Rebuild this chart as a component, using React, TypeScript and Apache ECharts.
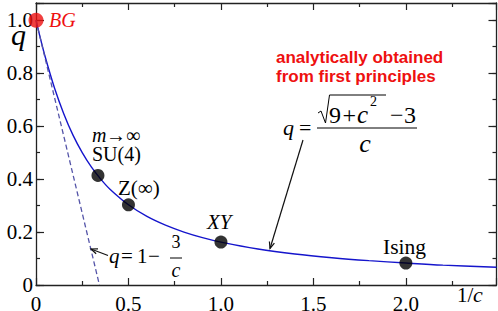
import React, { useEffect, useRef } from 'react';
import * as echarts from 'echarts';

// ---- data ----
const curveX = [0, 0.02, 0.05, 0.1, 0.15, 0.2, 0.25, 0.3, 0.35, 0.4, 0.5, 0.6, 0.7, 0.8, 0.9, 1.0, 1.2, 1.4, 1.6, 1.8, 2.0, 2.2, 2.49];
const curveQ = [1.0, 0.942, 0.861, 0.744, 0.647, 0.566, 0.5, 0.445, 0.4, 0.362, 0.303, 0.259, 0.226, 0.2, 0.179, 0.162, 0.136, 0.117, 0.103, 0.092, 0.083, 0.075, 0.067];
const tangentX = [0, 0.343];
const tangentQ = [1, 0];
const modelNames = ['SU(4)', 'Z(∞)', 'XY', 'Ising'];
const modelX = [0.335, 0.5, 1.0, 2.0];
const modelQ = [0.414, 0.303, 0.162, 0.083];
const bgX = [0];
const bgQ = [1];
const xTickLabels = ['0', '0.5', '1.0', '1.5', '2.0'];
const yTickLabels = ['0', '0.2', '0.4', '0.6', '0.8', '1.0'];

const SERIF = 'Liberation Serif, Times New Roman, serif';
const SANS = 'Liberation Sans, Arial, sans-serif';
const AXIS = '#222';
const RED = '#ee1010';

function txt(text: string, x: number, baseline: number, size: number, o: any = {}) {
  const family = o.sans ? SANS : SERIF;
  const align = o.align || 'left';
  return {
    type: 'text',
    x,
    y: baseline - (o.sans ? 0.346 : 0.3375) * size,
    z: 100,
    silent: true,
    style: {
      text,
      fontFamily: family,
      fontSize: size,
      fontStyle: o.italic ? 'italic' : 'normal',
      fontWeight: o.bold ? 'bold' : 'normal',
      fill: o.fill || '#000',
      align,
      verticalAlign: 'middle',
      textAlign: align,
      textVerticalAlign: 'middle',
    },
  };
}

function arrow(x1: number, y1: number, x2: number, y2: number) {
  const ang = Math.atan2(y2 - y1, x2 - x1);
  const L = 7;
  const a = 0.38;
  const p1 = [x2 - L * Math.cos(ang - a), y2 - L * Math.sin(ang - a)];
  const p2 = [x2 - L * Math.cos(ang + a), y2 - L * Math.sin(ang + a)];
  return [
    { type: 'line', z: 100, silent: true, shape: { x1, y1, x2, y2 }, style: { stroke: '#111', lineWidth: 1.2 } },
    { type: 'polyline', z: 100, silent: true, shape: { points: [p1, [x2, y2], p2] }, style: { stroke: '#111', fill: null, lineWidth: 1.2 } },
  ];
}

function line(x1: number, y1: number, x2: number, y2: number, w = 1) {
  return { type: 'line', z: 100, silent: true, shape: { x1, y1, x2, y2 }, style: { stroke: '#000', lineWidth: w } };
}

function labelFor(list: string[], step: number) {
  return (v: number) => {
    const i = Math.round(v / step);
    if (Math.abs(v - i * step) > 1e-6 || i < 0 || i >= list.length) return '';
    return list[i];
  };
}

export default function App() {
  const ref = useRef<HTMLDivElement>(null);
  useEffect(() => {
    if (!ref.current) return;
    const chart = echarts.init(ref.current, null, { renderer: 'svg' });
    const tickStyle = { color: AXIS, width: 1.2 };
    const axisLine = { show: true, onZero: false, lineStyle: { color: AXIS, width: 1.3 } };
    const xBase = {
      type: 'value', min: 0, max: 2.49, interval: 0.5,
      splitLine: { show: false },
      axisLine,
      axisTick: { show: true, inside: true, length: 7, lineStyle: tickStyle },
      minorTick: { show: true, splitNumber: 2, length: 4, lineStyle: tickStyle },
    };
    const yBase = {
      type: 'value', min: 0, max: 1.065,
      splitLine: { show: false },
      axisLine,
    };
    const names = modelNames;
    const option: any = {
      animation: false,
      grid: { left: 36, right: 1.5, top: 3, bottom: 26, containLabel: false, outerBoundsMode: 'none' },
      xAxis: [
        {
          ...xBase, position: 'bottom',
          axisLabel: {
            show: true, margin: 8, color: '#000', fontFamily: SERIF, fontSize: 21,
            formatter: labelFor(xTickLabels, 0.5), showMinLabel: true, showMaxLabel: true,
          },
        },
        { ...xBase, position: 'top', axisLabel: { show: false } },
      ],
      yAxis: [
        {
          ...yBase, position: 'left', interval: 0.2,
          axisTick: { show: true, inside: true, length: 8, lineStyle: tickStyle },
          axisLabel: {
            show: true, margin: 3, color: '#000', fontFamily: SERIF, fontSize: 21,
            formatter: labelFor(yTickLabels, 0.2), showMinLabel: true, showMaxLabel: true,
          },
        },
        {
          ...yBase, position: 'left', interval: 0.1, axisLine: { show: false, onZero: false },
          axisTick: { show: true, inside: true, length: 4, lineStyle: tickStyle },
          axisLabel: { show: false },
        },
        {
          ...yBase, position: 'right', interval: 0.2,
          axisTick: { show: true, inside: true, length: 8, lineStyle: tickStyle },
          axisLabel: { show: false },
        },
        {
          ...yBase, position: 'right', interval: 0.1, axisLine: { show: false, onZero: false },
          axisTick: { show: true, inside: true, length: 4, lineStyle: tickStyle },
          axisLabel: { show: false },
        },
      ],
      series: [
        {
          type: 'line', name: 'q exact', data: curveX.map((x, i) => [x, curveQ[i]]),
          smooth: 0.35, symbol: 'none', clip: true,
          lineStyle: { color: '#1515cc', width: 1.4 }, z: 2,
        },
        {
          type: 'line', name: 'q linear', data: tangentX.map((x, i) => [x, tangentQ[i]]),
          symbol: 'none', clip: true,
          lineStyle: { color: '#5454a8', width: 1.3, type: [5, 3] }, z: 2,
        },
        {
          type: 'scatter', name: 'models', data: modelX.map((x, i) => ({ name: names[i], value: [x, modelQ[i]] })),
          symbolSize: 13, itemStyle: { color: '#000' }, clip: false, z: 3,
        },
        {
          type: 'scatter', name: 'BG', data: bgX.map((x, i) => [x, bgQ[i]]),
          symbolSize: 15, itemStyle: { color: RED }, clip: false, z: 4,
        },
      ],
      graphic: {
        elements: [
          // axis names
          txt('q', 11, 45, 30, { italic: true }),
          txt('1/', 457, 302, 21),
          txt('c', 473, 302, 22, { italic: true }),
          // point labels
          txt('BG', 49, 27, 20, { italic: true, fill: RED }),
          txt('m', 92, 142, 20, { italic: true }),
          txt('→∞', 106, 142, 20),
          txt(names[0], 92, 161, 20),
          txt(names[1], 118, 195, 21),
          txt(names[2], 207, 229, 21, { italic: true }),
          txt(names[3], 383, 254, 21.5),
          // red note
          txt('analytically obtained', 276, 63, 17, { sans: true, bold: true, fill: RED }),
          txt('from first principles', 276, 82, 17, { sans: true, bold: true, fill: RED }),
          // exact formula q = (sqrt(9+c^2)-3)/c
          txt('q', 283, 135, 22, { italic: true }),
          txt('=', 299, 135, 22),
          line(317, 128, 417, 128, 1),
          { type: 'polyline', z: 100, silent: true, shape: { points: [[318, 113], [321, 111], [325.5, 123], [329.5, 95], [386, 95]] }, style: { stroke: '#000', fill: null, lineWidth: 1 } },
          txt('9', 329, 123, 24),
          txt('+', 342.5, 123, 24),
          txt('c', 357, 123, 25, { italic: true }),
          txt('2', 370, 106, 14),
          txt('−', 390, 123, 24),
          txt('3', 404, 123, 24),
          txt('c', 365, 152, 26, { italic: true, align: 'center' }),
          // linear formula q = 1 - 3/c
          txt('q', 109, 263, 21, { italic: true }),
          txt('=', 121, 263, 21),
          txt('1', 137, 263, 21),
          txt('−', 148, 263, 21),
          txt('3', 176, 248, 18, { align: 'center' }),
          line(170, 258, 182, 258, 1),
          txt('c', 176, 277, 20, { italic: true, align: 'center' }),
          // arrows
          ...arrow(108, 255.5, 91, 249),
          ...arrow(303, 140, 270, 248.5),
        ],
      },
    };
    chart.setOption(option);
    return () => chart.dispose();
  }, []);
  return <div ref={ref} style={{ position: 'absolute', left: 0, top: 0, width: 498, height: 311 }} />;
}
